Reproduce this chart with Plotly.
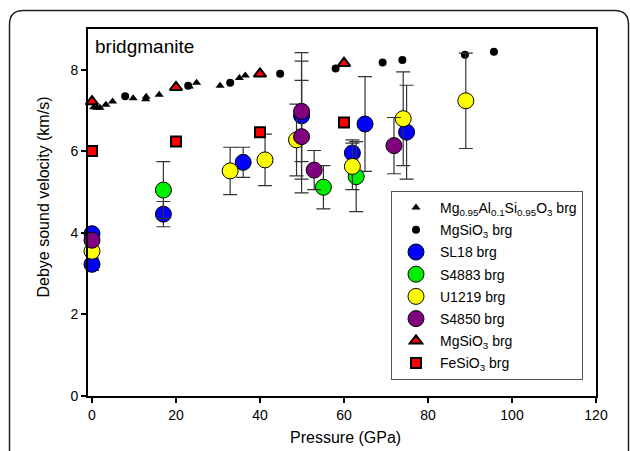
import plotly.graph_objects as go

# ---- data (Pressure in GPa, Debye sound velocity in km/s) ----
al_p = [0.4, 1.2, 1.9, 3.3, 4.9, 9.8, 12.8, 12.9, 16.0, 23.2, 24.9, 30.5, 35.1, 36.5]
al_v = [7.08, 7.07, 7.07, 7.14, 7.22, 7.30, 7.28, 7.34, 7.39, 7.59, 7.68, 7.61, 7.80, 7.86]

mg_p = [7.9, 22.9, 32.9, 44.8, 58.0, 69.2, 73.9, 88.8, 95.7]
mg_v = [7.35, 7.61, 7.68, 7.90, 8.03, 8.18, 8.24, 8.37, 8.44]

sl18_p = [0, 0, 17.0, 36.0, 49.9, 62.0, 65.0, 74.9]
sl18_v = [3.98, 3.23, 4.46, 5.73, 6.87, 5.96, 6.67, 6.47]
sl18_e = [None, 0.15, 0.31, 0.37, 1.55, 0.32, 1.16, 1.15]

s4883_p = [17.0, 55.1, 62.9]
s4883_v = [5.05, 5.12, 5.38]
s4883_e = [0.70, 0.53, 0.86]

u1219_p = [0, 32.9, 41.2, 48.7, 62.0, 74.1, 89.0]
u1219_v = [3.55, 5.52, 5.79, 6.28, 5.63, 6.80, 7.24]
u1219_e = [None, 0.58, 0.63, 0.88, 0.57, 1.15, 1.17]

s4850_p = [0, 49.9, 49.9, 52.9, 71.9]
s4850_v = [3.82, 6.98, 6.36, 5.54, 6.14]
s4850_e = [None, 1.23, 1.38, 0.48, 0.69]

mgt_p = [0, 20, 40, 60]
mgt_v = [7.22, 7.57, 7.90, 8.16]

fe_p = [0, 20, 40, 60]
fe_v = [6.01, 6.24, 6.47, 6.71]

FONT = "Liberation Sans, Arial, sans-serif"
ERR = dict(type="data", color="#333333", thickness=1.2, width=7)

fig = go.Figure()

def add(x, y, name, symbol, size, color, lw, lc="black", err=None, grp=""):
    kw = {}
    if err is not None:
        kw["error_y"] = dict(array=err, **ERR)
    fig.add_trace(go.Scatter(
        x=x, y=y, mode="markers", name=name, legendgroup=grp,
        marker=dict(symbol=symbol, size=size, color=color,
                    line=dict(color=lc, width=lw)),
        cliponaxis=False, **kw))

add(al_p, al_v, "Mg<sub>0.95</sub>Al<sub>0.1</sub>Si<sub>0.95</sub>O<sub>3</sub> brg",
    "triangle-up", 8, "black", 0, grp="g1")
add(mg_p, mg_v, "MgSiO<sub>3</sub> brg", "circle", 8, "black", 0, grp="g2")
add(sl18_p, sl18_v, "SL18 brg", "circle", 16, "#0000ff", 1, err=sl18_e, grp="g3")
add(s4883_p, s4883_v, "S4883 brg", "circle", 16, "#00ee00", 1, err=s4883_e, grp="g4")
add(u1219_p, u1219_v, "U1219 brg", "circle", 16, "#ffff00", 1, err=u1219_e, grp="g5")
add(s4850_p, s4850_v, "S4850 brg", "circle", 16, "#800080", 1, err=s4850_e, grp="g6")
add(mgt_p, mgt_v, "MgSiO<sub>3</sub> brg", "triangle-up", 11, "#ff0000", 2, grp="g7")
add(fe_p, fe_v, "FeSiO<sub>3</sub> brg", "square", 10, "#ff0000", 2, grp="g8")

# figure geometry helpers (pixel -> paper) for decorations
L, R, T, B, W, H = 88, 34, 29, 55, 630, 451
PW, PH = W - L - R, H - T - B
def X(px): return (px - L) / PW
def Y(py): return (H - B - py) / PH

r = 14
x0, x1, y0, yb = 9.5, 628.5, 10.5, 480
path = (f"M {X(x0)},{Y(yb)} L {X(x0)},{Y(y0 + r)} Q {X(x0)},{Y(y0)} {X(x0 + r)},{Y(y0)} "
        f"L {X(x1 - r)},{Y(y0)} Q {X(x1)},{Y(y0)} {X(x1)},{Y(y0 + r)} L {X(x1)},{Y(yb)}")
fig.add_shape(type="path", path=path, xref="paper", yref="paper",
              line=dict(color="#222222", width=1.5), layer="below")

axis_common = dict(showgrid=False, zeroline=False, showline=True, linecolor="black",
                   linewidth=2, mirror=True, ticks="outside", ticklen=5, tickwidth=1.5,
                   tickcolor="black", tickfont=dict(family=FONT, size=14, color="black"),
                   layer="above traces")

fig.update_layout(
    width=W, height=H, margin=dict(l=L, r=R, t=T, b=B),
    paper_bgcolor="white", plot_bgcolor="white",
    font=dict(family=FONT, color="black"),
    xaxis=dict(range=[-0.95, 120], tickvals=[0, 20, 40, 60, 80, 100, 120], **axis_common),
    yaxis=dict(range=[0, 9], tickvals=[0, 2, 4, 6, 8], **axis_common),
    showlegend=True,
    legend=dict(x=X(391), y=Y(191), xanchor="left", yanchor="top",
                bgcolor="white", bordercolor="#555555", borderwidth=1,
                font=dict(family=FONT, size=14, color="black"),
                itemwidth=38,
                traceorder="grouped", tracegroupgap=1),
    annotations=[
        dict(text="bridgmanite", x=X(93), y=Y(46), xref="paper", yref="paper",
             xanchor="left", yanchor="middle", showarrow=False,
             font=dict(family=FONT, size=19, color="black")),
        dict(text="Pressure (GPa)", x=X(345), y=Y(438), xref="paper", yref="paper",
             xanchor="center", yanchor="middle", showarrow=False,
             font=dict(family=FONT, size=16, color="black")),
        dict(text="Debye sound velocity (km/s)", x=X(42.5), y=Y(197), xref="paper",
             yref="paper", xanchor="center", yanchor="middle", textangle=-90,
             showarrow=False, font=dict(family=FONT, size=16, color="black")),
    ],
)

fig.write_html("out.html")
